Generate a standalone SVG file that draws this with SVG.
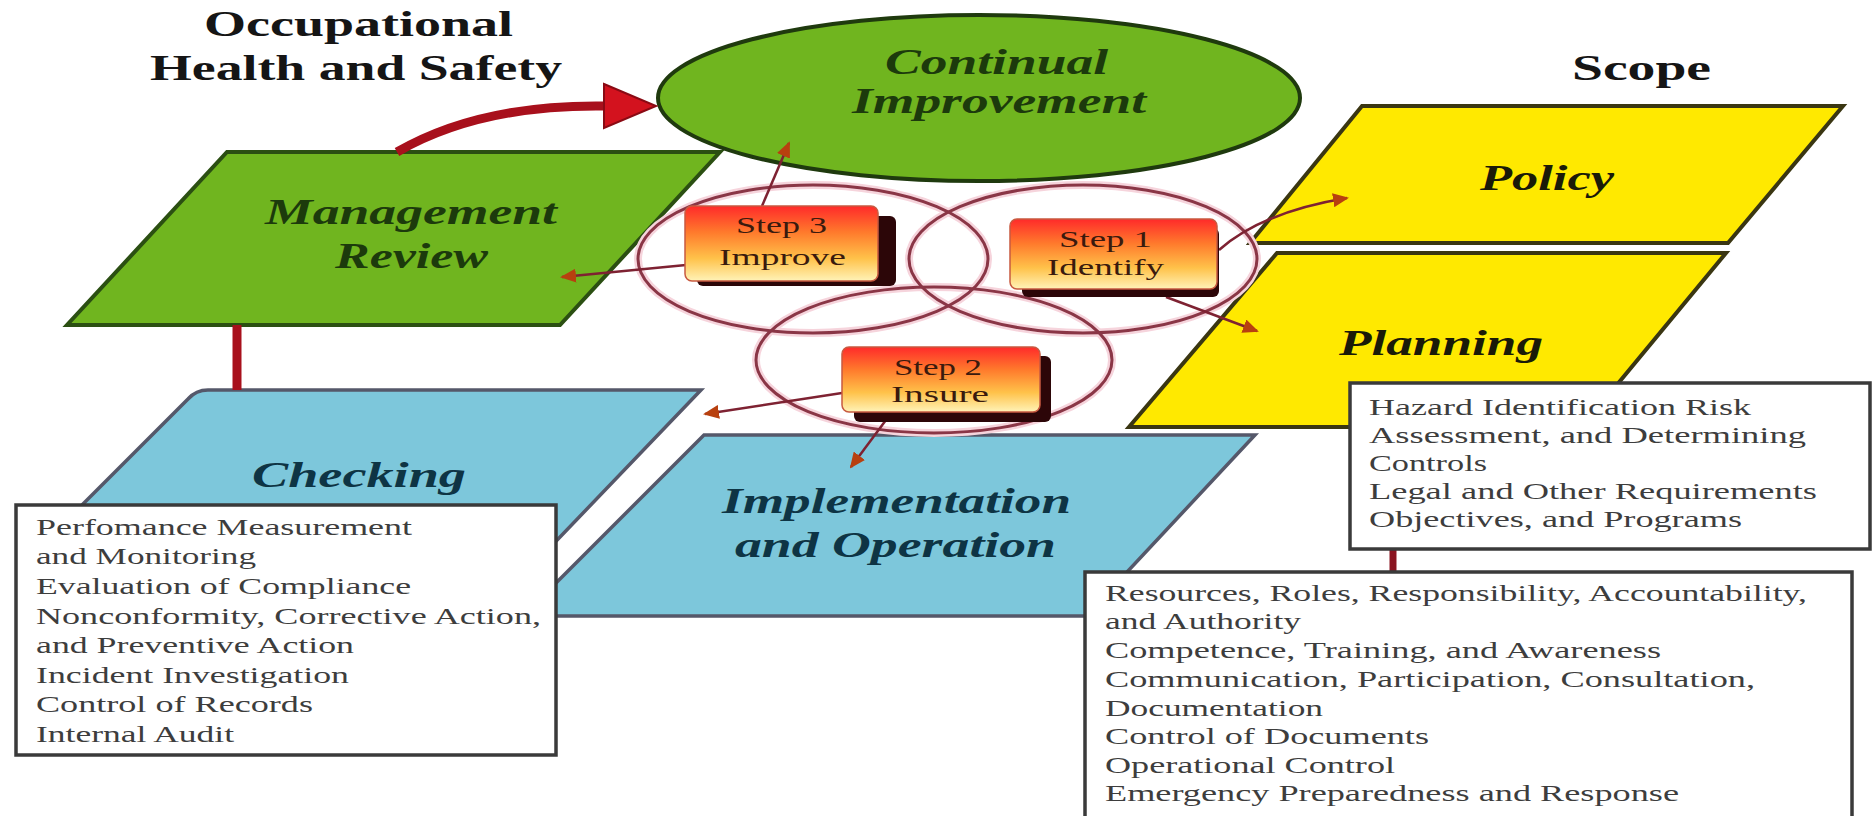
<svg xmlns="http://www.w3.org/2000/svg" width="1874" height="816" viewBox="0 0 1874 816">
<style>
.hdr{font-family:"Liberation Serif",serif;font-weight:bold;font-size:36px;fill:#151515}
.lbl{font-family:"Liberation Serif",serif;font-weight:bold;font-style:italic;font-size:35px}
.g{fill:#1c3a0c}.y{fill:#1a1a08}.b{fill:#0e3444}
.step{font-family:"Liberation Serif",serif;font-size:24px;fill:#3a1a0e}
.bt{font-family:"Liberation Serif",serif;font-size:24px;fill:#3d3d3d}
.green{fill:#70b51f;stroke:#2b4f12;stroke-width:4}
.yellow{fill:#ffe900;stroke:#3a3612;stroke-width:4}
.blue{fill:#7dc7db;stroke:#55586a;stroke-width:3.5}
.venn{fill:none;stroke:#8a3646;stroke-width:3}
.glow{fill:none;stroke:#f6d4dc;stroke-width:8}
.conn{fill:none;stroke:#7e2232;stroke-width:2.5}
.tbox{fill:#ffffff;stroke:#3a3a3a;stroke-width:3.5}
.shadow{fill:#2c0608}
</style>
<defs>
<linearGradient id="stepGrad" x1="0" y1="0" x2="0" y2="1">
<stop offset="0" stop-color="#ff2a2a"/>
<stop offset="0.35" stop-color="#ff7a2c"/>
<stop offset="0.7" stop-color="#ffc24a"/>
<stop offset="1" stop-color="#fff3b8"/>
</linearGradient>
<marker id="ah" markerWidth="16" markerHeight="14" refX="14" refY="7" orient="auto" markerUnits="userSpaceOnUse">
<path d="M0,0 L16,7 L0,14 Z" fill="#b8400f"/>
</marker>
</defs>
<rect width="1874" height="816" fill="#ffffff"/>

<g id="checking">
<path class="blue" d="M27,560 L188,399 Q196,390 208,390 L701,390 L538,560 Z"/>
<text class="lbl b" x="252" y="487" textLength="214" lengthAdjust="spacingAndGlyphs">Checking</text>
</g>
<g id="implementation">
<path class="blue" d="M704,435 L1255,435 L1086,616 L523,616 Z"/>
<text class="lbl b" x="722" y="513" textLength="349" lengthAdjust="spacingAndGlyphs">Implementation</text>
<text class="lbl b" x="735" y="557" textLength="321" lengthAdjust="spacingAndGlyphs">and Operation</text>
</g>
<g id="management-review">
<path class="green" d="M227,152 L720,152 L560,325 L67,325 Z"/>
<text class="lbl g" x="265" y="224" textLength="292" lengthAdjust="spacingAndGlyphs">Management</text>
<text class="lbl g" x="335" y="268" textLength="153" lengthAdjust="spacingAndGlyphs">Review</text>
</g>
<g id="continual-improvement">
<ellipse class="green" cx="979" cy="98" rx="321" ry="83" style="stroke:#1f3a0e"/>
<text class="lbl g" x="885" y="74" textLength="223" lengthAdjust="spacingAndGlyphs">Continual</text>
<text class="lbl g" x="852" y="113" textLength="294" lengthAdjust="spacingAndGlyphs">Improvement</text>
</g>
<g id="policy">
<path class="yellow" d="M1362,106 L1843,106 L1728,243 L1250,243 Z"/>
<text class="lbl y" x="1480" y="190" textLength="134" lengthAdjust="spacingAndGlyphs">Policy</text>
</g>
<g id="planning">
<path class="yellow" d="M1277,253 L1726,253 L1582,427 L1129,427 Z"/>
<text class="lbl y" x="1339" y="355" textLength="204" lengthAdjust="spacingAndGlyphs">Planning</text>
</g>

<g id="titles">
<text class="hdr" x="204" y="36" textLength="309" lengthAdjust="spacingAndGlyphs">Occupational</text>
<text class="hdr" x="150" y="80" textLength="412" lengthAdjust="spacingAndGlyphs">Health and Safety</text>
<text class="hdr" x="1572" y="80" textLength="139" lengthAdjust="spacingAndGlyphs">Scope</text>
</g>

<g id="venn">
<ellipse class="glow" cx="813" cy="259" rx="175" ry="74"/>
<ellipse class="glow" cx="1083" cy="259" rx="174" ry="74"/>
<ellipse class="glow" cx="934" cy="360" rx="178" ry="73"/>
<ellipse class="venn" cx="813" cy="259" rx="175" ry="74"/>
<ellipse class="venn" cx="1083" cy="259" rx="174" ry="74"/>
<ellipse class="venn" cx="934" cy="360" rx="178" ry="73"/>
</g>

<g id="connectors">
<path d="M397,152 Q480,104 606,106" fill="none" stroke="#a8101c" stroke-width="9"/>
<path d="M604,84 L656,106 L604,128 Z" fill="#d3121e" stroke="#8a0a14" stroke-width="2"/>
<line x1="237" y1="325" x2="237" y2="390" stroke="#a8101c" stroke-width="9"/>
<line x1="1393" y1="549" x2="1393" y2="572" stroke="#8a1420" stroke-width="7"/>
<line class="conn" x1="762" y1="206" x2="789" y2="143" marker-end="url(#ah)"/>
<line class="conn" x1="686" y1="265" x2="562" y2="277" marker-end="url(#ah)"/>
<path class="conn" d="M1219,250 Q1262,212 1347,198" marker-end="url(#ah)"/>
<line class="conn" x1="1166" y1="297" x2="1257" y2="331" marker-end="url(#ah)"/>
<line class="conn" x1="842" y1="393" x2="705" y2="414" marker-end="url(#ah)"/>
<line class="conn" x1="886" y1="420" x2="851" y2="467" marker-end="url(#ah)"/>
</g>

<g id="step3">
<rect class="shadow" x="697" y="216" width="199" height="70" rx="6"/>
<rect x="685" y="206" width="193" height="75" rx="7" fill="url(#stepGrad)" stroke="#c85a40" stroke-width="1.5"/>
<text class="step" x="736" y="233" textLength="91" lengthAdjust="spacingAndGlyphs">Step 3</text>
<text class="step" x="719" y="265" textLength="127" lengthAdjust="spacingAndGlyphs">Improve</text>
</g>
<g id="step1">
<rect class="shadow" x="1022" y="228" width="197" height="69" rx="6"/>
<rect x="1010" y="219" width="207" height="70" rx="7" fill="url(#stepGrad)" stroke="#c85a40" stroke-width="1.5"/>
<text class="step" x="1059" y="247" textLength="93" lengthAdjust="spacingAndGlyphs">Step 1</text>
<text class="step" x="1047" y="275" textLength="117" lengthAdjust="spacingAndGlyphs">Identify</text>
</g>
<g id="step2">
<rect class="shadow" x="854" y="356" width="197" height="66" rx="6"/>
<rect x="842" y="347" width="198" height="65" rx="7" fill="url(#stepGrad)" stroke="#c85a40" stroke-width="1.5"/>
<text class="step" x="894" y="375" textLength="88" lengthAdjust="spacingAndGlyphs">Step 2</text>
<text class="step" x="891" y="402" textLength="98" lengthAdjust="spacingAndGlyphs">Insure</text>
</g>

<g id="checking-list">
<rect class="tbox" x="16" y="505" width="540" height="250"/>
<text class="bt" x="36" y="535" textLength="376" lengthAdjust="spacingAndGlyphs">Perfomance Measurement</text>
<text class="bt" x="36" y="564" textLength="220" lengthAdjust="spacingAndGlyphs">and Monitoring</text>
<text class="bt" x="36" y="594" textLength="375" lengthAdjust="spacingAndGlyphs">Evaluation of Compliance</text>
<text class="bt" x="36" y="624" textLength="505" lengthAdjust="spacingAndGlyphs">Nonconformity, Corrective Action,</text>
<text class="bt" x="36" y="653" textLength="318" lengthAdjust="spacingAndGlyphs">and Preventive Action</text>
<text class="bt" x="36" y="683" textLength="313" lengthAdjust="spacingAndGlyphs">Incident Investigation</text>
<text class="bt" x="36" y="712" textLength="277" lengthAdjust="spacingAndGlyphs">Control of Records</text>
<text class="bt" x="36" y="742" textLength="198" lengthAdjust="spacingAndGlyphs">Internal Audit</text>
</g>

<g id="planning-list">
<rect class="tbox" x="1350" y="383" width="520" height="166"/>
<text class="bt" x="1369" y="415" textLength="382" lengthAdjust="spacingAndGlyphs">Hazard Identification Risk</text>
<text class="bt" x="1369" y="443" textLength="437" lengthAdjust="spacingAndGlyphs">Assessment, and Determining</text>
<text class="bt" x="1369" y="471" textLength="118" lengthAdjust="spacingAndGlyphs">Controls</text>
<text class="bt" x="1369" y="499" textLength="448" lengthAdjust="spacingAndGlyphs">Legal and Other Requirements</text>
<text class="bt" x="1369" y="527" textLength="373" lengthAdjust="spacingAndGlyphs">Objectives, and Programs</text>
</g>

<g id="implementation-list">
<rect class="tbox" x="1085" y="572" width="767" height="252"/>
<text class="bt" x="1105" y="601" textLength="702" lengthAdjust="spacingAndGlyphs">Resources, Roles, Responsibility, Accountability,</text>
<text class="bt" x="1105" y="629" textLength="196" lengthAdjust="spacingAndGlyphs">and Authority</text>
<text class="bt" x="1105" y="658" textLength="556" lengthAdjust="spacingAndGlyphs">Competence, Training, and Awareness</text>
<text class="bt" x="1105" y="687" textLength="650" lengthAdjust="spacingAndGlyphs">Communication, Participation, Consultation,</text>
<text class="bt" x="1105" y="716" textLength="218" lengthAdjust="spacingAndGlyphs">Documentation</text>
<text class="bt" x="1105" y="744" textLength="324" lengthAdjust="spacingAndGlyphs">Control of Documents</text>
<text class="bt" x="1105" y="773" textLength="290" lengthAdjust="spacingAndGlyphs">Operational Control</text>
<text class="bt" x="1105" y="801" textLength="574" lengthAdjust="spacingAndGlyphs">Emergency Preparedness and Response</text>
</g>
</svg>
